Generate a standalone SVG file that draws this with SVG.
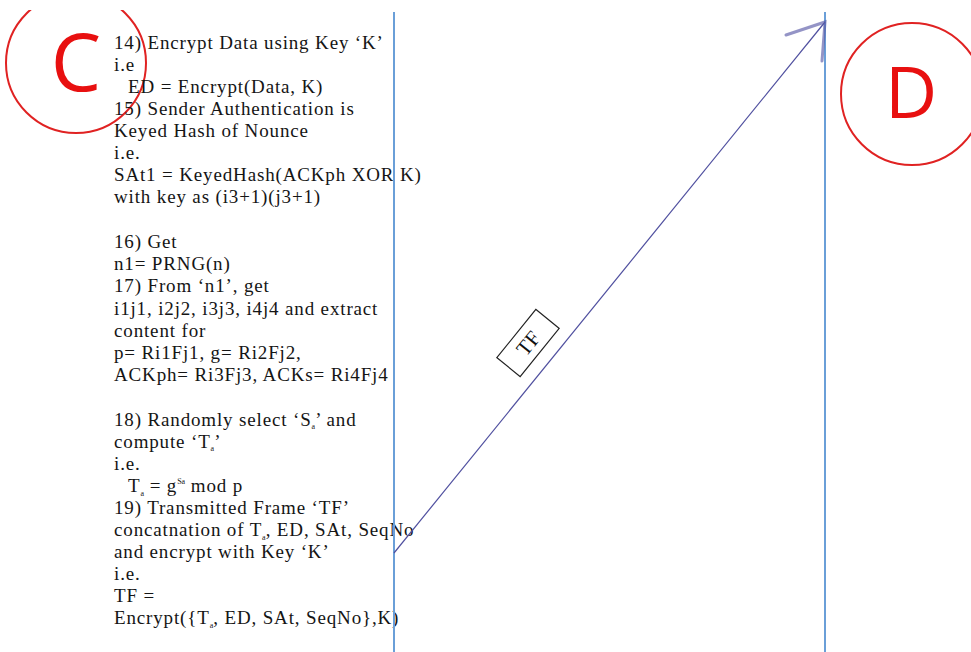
<svg xmlns="http://www.w3.org/2000/svg" width="971" height="652" viewBox="0 0 971 652">
<style>
.t{font-family:"Liberation Serif","Times New Roman",serif;font-size:19px;fill:#151515;letter-spacing:0.85px}
.s{font-size:8px;letter-spacing:0}
.life{stroke:#6a9fd8;stroke-width:2;fill:none}
.msg{stroke:#4f4f9f;stroke-width:1.2;fill:none}
.head{stroke:#5a5aa8;stroke-width:3;stroke-opacity:0.65;fill:none;stroke-linecap:round}
.ring{stroke:#e02222;stroke-width:2;fill:none}
.big{font-family:"Open Sans","Liberation Sans",sans-serif;fill:#e81010}
.lbl{font-family:"Liberation Serif","Times New Roman",serif;font-size:21px;fill:#111}
</style>
<defs>
<clipPath id="top"><rect x="0" y="10" width="971" height="642"/></clipPath>
</defs>
<rect width="971" height="652" fill="#fff"/>
<g id="nodeC" clip-path="url(#top)">
<circle class="ring" cx="76" cy="63" r="70"/>
<text class="big" x="76" y="91" font-size="80" text-anchor="middle">C</text>
</g>
<g id="nodeD">
<circle class="ring" cx="912" cy="94" r="71"/>
<text class="big" x="911" y="118" font-size="72" text-anchor="middle">D</text>
</g>
<g id="steps">
<text class="t" x="114" y="49">14) Encrypt Data using Key ‘K’</text>
<text class="t" x="114" y="71">i.e</text>
<text class="t" x="128" y="93">ED = Encrypt(Data, K)</text>
<text class="t" x="114" y="115">15) Sender Authentication is</text>
<text class="t" x="114" y="137">Keyed Hash of Nounce</text>
<text class="t" x="114" y="159">i.e.</text>
<text class="t" x="114" y="181">SAt1 = KeyedHash(ACKph XOR K)</text>
<text class="t" x="114" y="203">with key as (i3+1)(j3+1)</text>
<text class="t" x="114" y="248">16) Get</text>
<text class="t" x="114" y="270">n1= PRNG(n)</text>
<text class="t" x="114" y="292">17) From ‘n1’, get</text>
<text class="t" x="114" y="315">i1j1, i2j2, i3j3, i4j4 and extract</text>
<text class="t" x="114" y="337">content for</text>
<text class="t" x="114" y="359">p= Ri1Fj1, g= Ri2Fj2,</text>
<text class="t" x="114" y="381">ACKph= Ri3Fj3, ACKs= Ri4Fj4</text>
<text class="t" x="114" y="426">18) Randomly select ‘S<tspan class="s" dy="3">a</tspan><tspan dy="-3">’ and</tspan></text>
<text class="t" x="114" y="448">compute ‘T<tspan class="s" dy="3">a</tspan><tspan dy="-3">’</tspan></text>
<text class="t" x="114" y="470">i.e.</text>
<text class="t" x="128" y="492">T<tspan class="s" dy="4">a</tspan><tspan dy="-4"> = g</tspan><tspan class="s" dy="-8">Sa</tspan><tspan dy="8"> mod p</tspan></text>
<text class="t" x="114" y="514">19) Transmitted Frame ‘TF’</text>
<text class="t" x="114" y="536">concatnation of T<tspan class="s" dy="4">a</tspan><tspan dy="-4">, ED, SAt, SeqNo</tspan></text>
<text class="t" x="114" y="558">and encrypt with Key ‘K’</text>
<text class="t" x="114" y="580">i.e.</text>
<text class="t" x="114" y="602">TF =</text>
<text class="t" x="114" y="624">Encrypt({T<tspan class="s" dy="4">a</tspan><tspan dy="-4">, ED, SAt, SeqNo},K)</tspan></text>
</g>
<g id="lifelines">
<line class="life" x1="394" y1="12" x2="394" y2="652"/>
<line class="life" x1="825" y1="12" x2="825" y2="652"/>
</g>
<g id="connectors">
<line class="msg" x1="394" y1="553" x2="825" y2="22"/>
<polyline class="head" points="786,35 825,22 822,61"/>
<g transform="translate(528,343) rotate(-51)">
<rect x="-31" y="-15" width="62" height="30" fill="#fff" stroke="#222" stroke-width="1.2"/>
<text class="lbl" x="0" y="7.5" text-anchor="middle">TF</text>
</g>
</g>
</svg>
